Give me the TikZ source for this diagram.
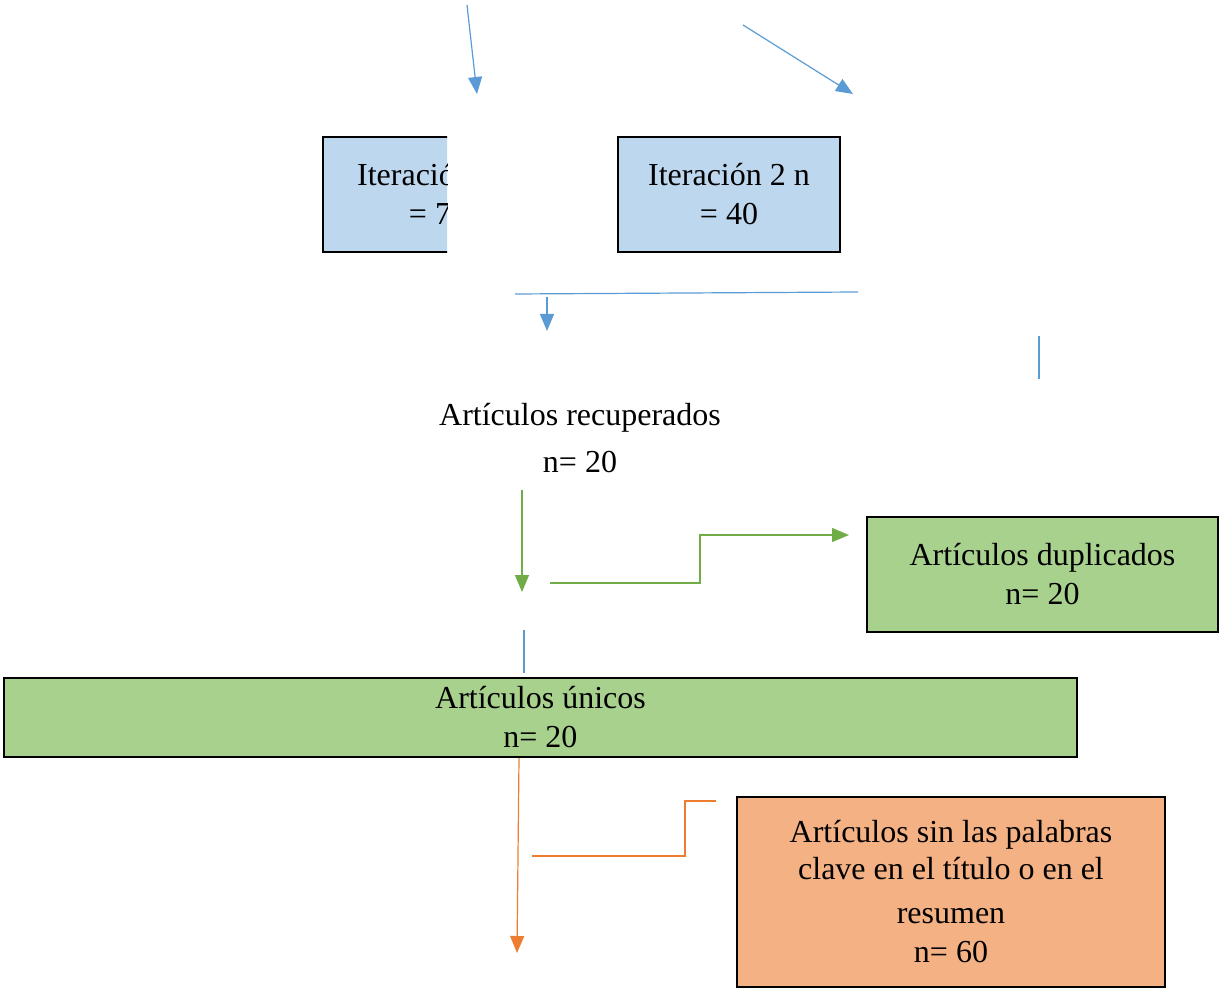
\documentclass[tikz,border=0pt]{standalone}
\usepackage{fontspec}
\setmainfont{Liberation Serif}
\usetikzlibrary{arrows.meta}

\definecolor{lineblue}{HTML}{5B9BD5}
\definecolor{linegreen}{HTML}{70AD47}
\definecolor{lineorange}{HTML}{ED7D31}
\definecolor{fillblue}{HTML}{BDD7EE}
\definecolor{fillgreen}{HTML}{A9D18E}
\definecolor{fillorange}{HTML}{F4B183}

\tikzset{
  box/.style={draw=black, line width=1pt, inner sep=0pt, align=center,
    font=\fontsize{16}{19.5}\selectfont},
  plain/.style={align=center, font=\fontsize{16}{19.5}\selectfont},
  flow/.style={line width=0.6pt, -{Triangle[length=8.5pt,width=7pt]}},
  link/.style={line width=0.6pt},
}

\begin{document}
\begin{tikzpicture}[x=0.5pt,y=-0.5pt]
\useasboundingbox (0,0) rectangle (1220,988);

\begin{scope}
\clip (300,120) rectangle (447,270);
\node[box, fill=fillblue, minimum width=111pt, minimum height=57.5pt] (it1) at (434,194.5) {\hspace*{4pt}Iteración 1 n\\\hspace*{4pt}= 7\phantom{0}};
\end{scope}

\path (729,194.5) node[box, fill=fillblue, minimum width=111pt, minimum height=57.5pt] (it2) {Iteración 2 n\\= 40}
      (580,438) node[plain] (rec) {Artículos recuperados\\[4pt]n= 20}
      (1042.5,574.5) node[box, fill=fillgreen, minimum width=175.5pt, minimum height=57.5pt] (dup) {Artículos duplicados\\n= 20}
      (540.5,717.5) node[box, fill=fillgreen, minimum width=536.5pt, minimum height=39.5pt] (uni) {Artículos únicos\\n= 20}
      (951,892) node[box, fill=fillorange, minimum width=214pt, minimum height=95pt] (sin) {Artículos sin las palabras\\[-1pt]clave en el título o en el\\[2.5pt]resumen\\[0pt]n= 60}
      (467,5) coordinate (a1s)   (477,94) coordinate (a1e)
      (743,25) coordinate (a2s)  (853,94) coordinate (a2e)
      (515,294) coordinate (hs)  (858,292) coordinate (he)
      (547,297) coordinate (a3s) (547,331) coordinate (a3e)
      (1039,336) coordinate (vs) (1039,379) coordinate (ve)
      (522,490) coordinate (g1s) (522,592) coordinate (g1e)
      (550,583) coordinate (g2s) (849,535) coordinate (g2e)
      (524,630) coordinate (bs)  (524,673) coordinate (be)
      (519,758) coordinate (o1s) (517,953) coordinate (o1e)
      (532,856) coordinate (o2s) (716,801) coordinate (o2e)
      ;

\draw[flow, lineblue] (a1s) -- (a1e);
\draw[flow, lineblue] (a2s) -- (a2e);
\draw[link, lineblue] (hs) -- (he);
\draw[flow, lineblue] (a3s) -- (a3e);
\draw[link, lineblue] (vs) -- (ve);

\draw[flow, linegreen] (g1s) -- (g1e);
\draw[flow, linegreen] (g2s) -- (700,583) -- (700,535) -- (g2e);
\draw[link, lineblue] (bs) -- (be);

\draw[flow, lineorange] (o1s) -- (o1e);
\draw[link, lineorange] (o2s) -- (685,856) -- (685,801) -- (o2e);
\end{tikzpicture}
\end{document}
